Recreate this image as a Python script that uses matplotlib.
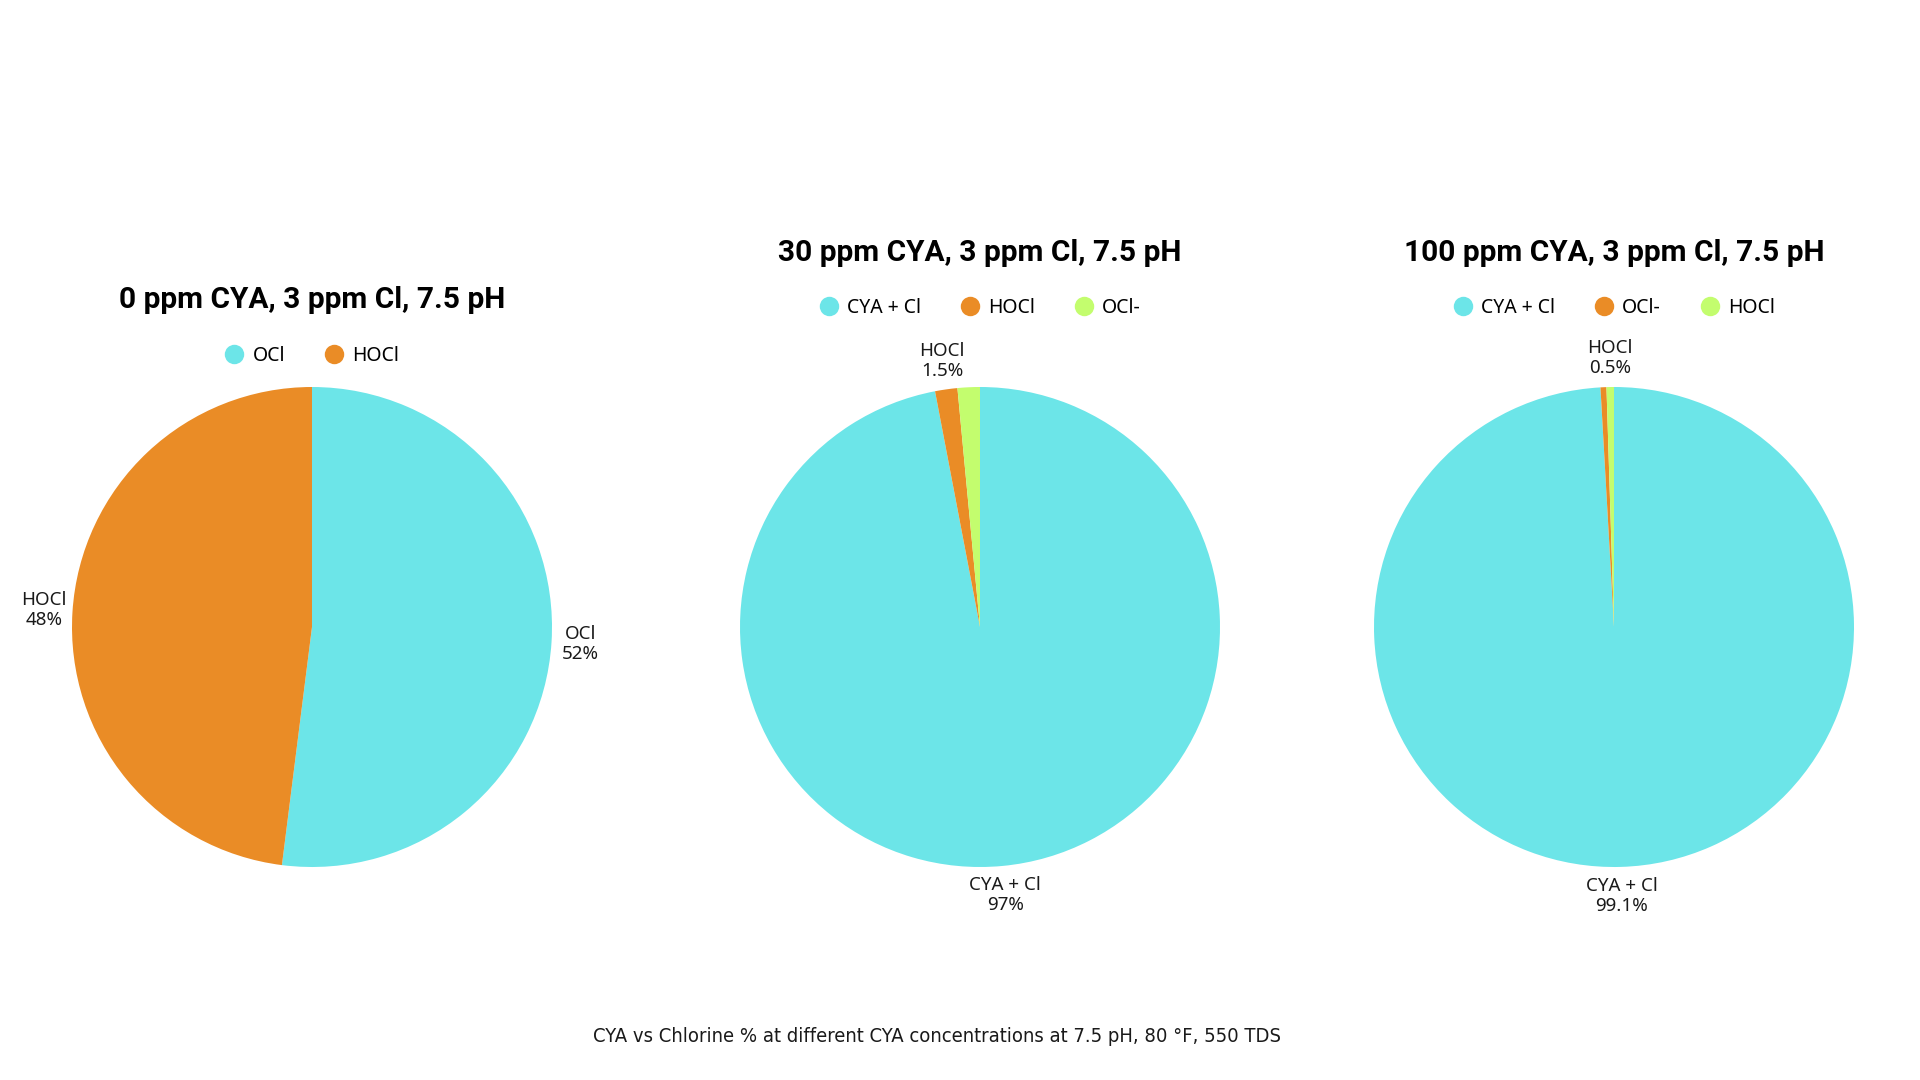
import matplotlib
matplotlib.use("Agg")
import matplotlib.pyplot as plt
from matplotlib.lines import Line2D

# chart data
titles = ["0 ppm CYA, 3 ppm Cl, 7.5 pH",
          "30 ppm CYA, 3 ppm Cl, 7.5 pH",
          "100 ppm CYA, 3 ppm Cl, 7.5 pH"]
labels_0 = ["OCl", "HOCl"]
values_0 = [52, 48]
pct_0 = ["52%", "48%"]
labels_30 = ["CYA + Cl", "HOCl", "OCl-"]
values_30 = [97, 1.5, 1.5]
pct_30 = ["97%", "1.5%", "1.5%"]
labels_100 = ["CYA + Cl", "OCl-", "HOCl"]
values_100 = [99.1, 0.4, 0.5]
pct_100 = ["99.1%", "0.4%", "0.5%"]
# which slice labels the chart shows (others hidden as overlapping)
shown_0 = [True, True]
shown_30 = [True, True, False]
shown_100 = [True, False, True]
footer = "CYA vs Chlorine % at different CYA concentrations at 7.5 pH, 80 °F, 550 TDS"

CYAN = "#6CE5E8"
ORANGE = "#EA8C26"
GREEN = "#C3FD6E"
colors = [CYAN, ORANGE, GREEN]

W, H = 1920, 1080
fig = plt.figure(figsize=(W / 100, H / 100), dpi=100)
fig.patch.set_facecolor("white")

LABEL_FONT = ["Noto Sans", "DejaVu Sans"]
TITLE_FONT = ["Roboto", "DejaVu Sans"]

# (pie center x, center y, title y, legend y) in pixels from top-left
layout = [
    (312, 627, 300, 356),
    (980, 627, 253, 308),
    (1614, 627, 253, 308),
]
R = 240
LIM = 1.35

datasets = [
    (labels_0, values_0, pct_0, shown_0),
    (labels_30, values_30, pct_30, shown_30),
    (labels_100, values_100, pct_100, shown_100),
]

for (labels, values, pct, shown), title, (cx, cy, ty, ly) in zip(datasets, titles, layout):
    half = R * LIM
    ax = fig.add_axes([(cx - half) / W, (H - cy - half) / H, 2 * half / W, 2 * half / H])
    slice_labels = [f"{l}\n{p}" if s else "" for l, p, s in zip(labels, pct, shown)]
    wedges, texts = ax.pie(values, labels=slice_labels, colors=colors[:len(values)],
                           startangle=90, counterclock=False, labeldistance=1.12,
                           wedgeprops=dict(linewidth=0),
                           textprops=dict(fontsize=13.5, family=LABEL_FONT, color="#1a1a1a",
                                          linespacing=1.15))
    for t in texts:
        t.set_horizontalalignment("center")
        t.set_verticalalignment("center")
    ax.set_xlim(-LIM, LIM)
    ax.set_ylim(-LIM, LIM)
    ax.set_aspect("equal")

    fig.text(cx / W, 1 - ty / H, title, ha="center", va="center",
             fontsize=21.5, fontweight="bold", family=TITLE_FONT, color="black")

    handles = [Line2D([0], [0], marker="o", linestyle="", markersize=14,
                      markerfacecolor=c, markeredgewidth=0) for c in colors[:len(values)]]
    fig.legend(handles, labels, loc="center", bbox_to_anchor=(cx / W, 1 - ly / H),
               ncol=len(labels), frameon=False, handletextpad=0.45, columnspacing=2.0,
               prop=dict(family=LABEL_FONT, size=14), handlelength=1.0)

fig.text(937 / W, 1 - 1037 / H, footer, ha="center", va="center", fontsize=14.5,
         family=["Liberation Sans Narrow", "DejaVu Sans"], fontstretch="condensed",
         color="#1a1a1a")

fig.savefig("out.png", dpi=100, facecolor="white")
